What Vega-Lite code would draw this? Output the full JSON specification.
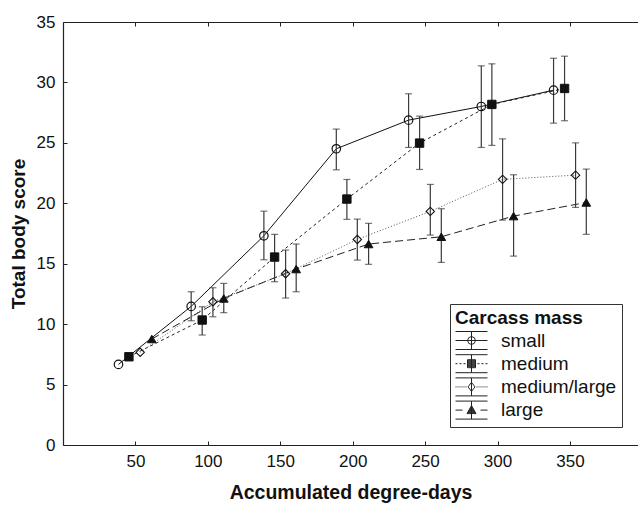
{
  "$schema": "https://vega.github.io/schema/vega-lite/v6.json",
  "width": 575,
  "height": 423,
  "autosize": "none",
  "padding": {"left": 63, "top": 22, "right": 0, "bottom": 60},
  "config": {
    "view": {"stroke": null},
    "font": "Liberation Sans",
    "axis": {"grid": false, "domainColor": "#222", "domainWidth": 1.2, "tickColor": "#222", "tickWidth": 1, "labelColor": "#111", "titleColor": "#111"}
  },
  "data": {
    "values": [
      {"group": "small", "x": 38.3, "y": 6.67, "lo": null, "hi": null},
      {"group": "small", "x": 88.5, "y": 11.47, "lo": 10.28, "hi": 12.68},
      {"group": "small", "x": 138.7, "y": 17.31, "lo": 15.33, "hi": 19.35},
      {"group": "small", "x": 188.7, "y": 24.51, "lo": 22.77, "hi": 26.14},
      {"group": "small", "x": 238.6, "y": 26.88, "lo": 24.62, "hi": 29.06},
      {"group": "small", "x": 288.8, "y": 28.01, "lo": 24.62, "hi": 31.37},
      {"group": "small", "x": 338.7, "y": 29.36, "lo": 26.63, "hi": 32.0},
      {"group": "medium", "x": 45.5, "y": 7.3, "lo": null, "hi": null},
      {"group": "medium", "x": 96.1, "y": 10.34, "lo": 9.1, "hi": 11.44},
      {"group": "medium", "x": 146.1, "y": 15.55, "lo": 13.51, "hi": 17.43},
      {"group": "medium", "x": 196.0, "y": 20.35, "lo": 18.67, "hi": 21.97},
      {"group": "medium", "x": 246.2, "y": 24.98, "lo": 22.8, "hi": 27.21},
      {"group": "medium", "x": 296.1, "y": 28.18, "lo": 24.79, "hi": 31.54},
      {"group": "medium", "x": 346.3, "y": 29.5, "lo": 26.83, "hi": 32.17},
      {"group": "medium/large", "x": 53.3, "y": 7.67, "lo": null, "hi": null},
      {"group": "medium/large", "x": 103.5, "y": 11.85, "lo": 10.61, "hi": 13.01},
      {"group": "medium/large", "x": 153.7, "y": 14.17, "lo": 12.16, "hi": 16.13},
      {"group": "medium/large", "x": 203.2, "y": 17.01, "lo": 15.3, "hi": 18.69},
      {"group": "medium/large", "x": 253.6, "y": 19.33, "lo": 17.37, "hi": 21.56},
      {"group": "medium/large", "x": 303.5, "y": 21.98, "lo": 18.61, "hi": 25.33},
      {"group": "medium/large", "x": 353.9, "y": 22.33, "lo": 19.66, "hi": 25.0},
      {"group": "large", "x": 61.3, "y": 8.77, "lo": null, "hi": null},
      {"group": "large", "x": 111.0, "y": 12.13, "lo": 10.95, "hi": 13.37},
      {"group": "large", "x": 161.0, "y": 14.56, "lo": 12.68, "hi": 16.63},
      {"group": "large", "x": 211.0, "y": 16.63, "lo": 14.95, "hi": 18.34},
      {"group": "large", "x": 261.2, "y": 17.23, "lo": 15.11, "hi": 19.55},
      {"group": "large", "x": 311.1, "y": 18.94, "lo": 15.63, "hi": 22.36},
      {"group": "large", "x": 361.3, "y": 20.07, "lo": 17.43, "hi": 22.83}
    ]
  },
  "layer": [
    {
      "description": "small: solid line (also carries the bottom and left axes)",
      "transform": [{"filter": "datum.group === 'small'"}],
      "mark": {"type": "line", "stroke": "#111", "strokeWidth": 1},
      "encoding": {
        "x": {
          "field": "x", "type": "quantitative",
          "scale": {"domain": [0, 397], "nice": false, "zero": false},
          "axis": {
            "orient": "bottom", "values": [50, 100, 150, 200, 250, 300, 350],
            "tickSize": -4, "labelPadding": 12, "labelFontSize": 17,
            "title": "Accumulated degree-days", "titleFontSize": 19.5, "titleFontWeight": "bold", "titlePadding": 14
          }
        },
        "y": {
          "field": "y", "type": "quantitative",
          "scale": {"domain": [0, 35], "nice": false},
          "axis": {
            "values": [0, 5, 10, 15, 20, 25, 30, 35],
            "tickSize": -4, "labelPadding": 12, "labelFontSize": 17,
            "title": "Total body score", "titleFontSize": 19, "titleFontWeight": "bold", "titlePadding": 8
          }
        }
      }
    },
    {
      "description": "medium: short-dash line",
      "transform": [{"filter": "datum.group === 'medium'"}],
      "mark": {"type": "line", "stroke": "#222", "strokeWidth": 1, "strokeDash": [3, 3]},
      "encoding": {
        "x": {"field": "x", "type": "quantitative", "axis": null},
        "y": {"field": "y", "type": "quantitative"}
      }
    },
    {
      "description": "medium/large: dotted line",
      "transform": [{"filter": "datum.group === 'medium/large'"}],
      "mark": {"type": "line", "stroke": "#555", "strokeWidth": 1, "strokeDash": [1, 2]},
      "encoding": {
        "x": {"field": "x", "type": "quantitative", "axis": null},
        "y": {"field": "y", "type": "quantitative"}
      }
    },
    {
      "description": "large: long-dash line",
      "transform": [{"filter": "datum.group === 'large'"}],
      "mark": {"type": "line", "stroke": "#222", "strokeWidth": 1, "strokeDash": [8, 4]},
      "encoding": {
        "x": {"field": "x", "type": "quantitative", "axis": null},
        "y": {"field": "y", "type": "quantitative"}
      }
    },
    {
      "description": "top frame line with inward ticks",
      "mark": {"type": "rule", "opacity": 0},
      "encoding": {
        "x": {
          "field": "x", "type": "quantitative",
          "axis": {"orient": "top", "values": [50, 100, 150, 200, 250, 300, 350], "tickSize": -4, "labels": false, "title": null}
        }
      }
    },
    {
      "description": "error bar stems",
      "mark": {"type": "rule", "stroke": "#3a3a3a", "strokeWidth": 1.2},
      "encoding": {
        "x": {"field": "x", "type": "quantitative", "axis": null},
        "y": {"field": "lo", "type": "quantitative"},
        "y2": {"field": "hi"}
      }
    },
    {
      "description": "lower error bar caps",
      "mark": {"type": "tick", "orient": "horizontal", "size": 7, "thickness": 1.2, "color": "#3a3a3a"},
      "encoding": {
        "x": {"field": "x", "type": "quantitative", "axis": null},
        "y": {"field": "lo", "type": "quantitative"}
      }
    },
    {
      "description": "upper error bar caps",
      "mark": {"type": "tick", "orient": "horizontal", "size": 7, "thickness": 1.2, "color": "#3a3a3a"},
      "encoding": {
        "x": {"field": "x", "type": "quantitative", "axis": null},
        "y": {"field": "hi", "type": "quantitative"}
      }
    },
    {
      "description": "small: open circles",
      "transform": [{"filter": "datum.group === 'small'"}],
      "mark": {"type": "point", "shape": "circle", "size": 72, "stroke": "#111", "strokeWidth": 1.2, "fill": "transparent", "opacity": 1},
      "encoding": {
        "x": {"field": "x", "type": "quantitative", "axis": null},
        "y": {"field": "y", "type": "quantitative"}
      }
    },
    {
      "description": "medium: filled squares",
      "transform": [{"filter": "datum.group === 'medium'"}],
      "mark": {"type": "point", "shape": "square", "size": 70, "stroke": "#111", "strokeWidth": 1, "fill": "#111", "opacity": 1},
      "encoding": {
        "x": {"field": "x", "type": "quantitative", "axis": null},
        "y": {"field": "y", "type": "quantitative"}
      }
    },
    {
      "description": "medium/large: open diamonds",
      "transform": [{"filter": "datum.group === 'medium/large'"}],
      "mark": {"type": "point", "shape": "diamond", "size": 70, "stroke": "#111", "strokeWidth": 1.1, "fill": "transparent", "opacity": 1},
      "encoding": {
        "x": {"field": "x", "type": "quantitative", "axis": null},
        "y": {"field": "y", "type": "quantitative"}
      }
    },
    {
      "description": "large: filled triangles",
      "transform": [{"filter": "datum.group === 'large'"}],
      "mark": {"type": "point", "shape": "triangle-up", "size": 75, "stroke": "#111", "strokeWidth": 1, "fill": "#111", "opacity": 1},
      "encoding": {
        "x": {"field": "x", "type": "quantitative", "axis": null},
        "y": {"field": "y", "type": "quantitative"}
      }
    },
    {
      "description": "key only: error-bar style glyph for each class; solid markers are drawn as packed strokes",
      "transform": [{"filter": "false"}],
      "mark": {"type": "point", "filled": false, "color": "#222", "stroke": "#222", "strokeWidth": 1, "opacity": 1},
      "encoding": {
        "shape": {
          "field": "group", "type": "nominal",
          "scale": {
            "domain": ["small", "medium", "medium/large", "large"],
            "range": [
              "M -1.6 -0.9 H 1.6 M -1.6 0.9 H 1.6 M 0 -0.9 V 0.9 M -1.6 0 H 1.6 M 0.4 0 L 0.28 0.28 L 0 0.4 L -0.28 0.28 L -0.4 0 L -0.28 -0.28 L 0 -0.4 L 0.28 -0.28 Z",
              "M -1.6 -0.9 H 1.6 M -1.6 0.9 H 1.6 M 0 -0.9 V 0.9 M -1.6 0 H -1.4 M -1.2 0 H -1.0 M -0.8 0 H -0.6 M 0.6 0 H 0.8 M 1.0 0 H 1.2 M 1.4 0 H 1.6 M -0.4 -0.4 H 0.4 V 0.4 H -0.4 Z M -0.4 -0.3 H 0.4 M -0.4 -0.2 H 0.4 M -0.4 -0.1 H 0.4 M -0.4 0 H 0.4 M -0.4 0.1 H 0.4 M -0.4 0.2 H 0.4 M -0.4 0.3 H 0.4",
              "M -1.6 -0.9 H 1.6 M -1.6 0.9 H 1.6 M 0 -0.9 V 0.9 M -1.6 0 H -1.5 M -1.4 0 H -1.3 M -1.2 0 H -1.1 M -1.0 0 H -0.9 M -0.8 0 H -0.7 M -0.6 0 H -0.5 M 0.5 0 H 0.6 M 0.7 0 H 0.8 M 0.9 0 H 1.0 M 1.1 0 H 1.2 M 1.3 0 H 1.4 M 1.5 0 H 1.6 M 0 -0.45 L 0.35 0 L 0 0.45 L -0.35 0 Z",
              "M -1.6 -0.9 H 1.6 M -1.6 0.9 H 1.6 M 0 -0.9 V 0.9 M -1.6 0 H -0.9 M 0.9 0 H 1.6 M 0 -0.45 L 0.45 0.35 L -0.45 0.35 Z M -0.06 -0.35 H 0.06 M -0.11 -0.25 H 0.11 M -0.17 -0.15 H 0.17 M -0.23 -0.05 H 0.23 M -0.28 0.05 H 0.28 M -0.34 0.15 H 0.34 M -0.39 0.25 H 0.39"
            ]
          },
          "legend": {
            "title": "Carcass mass", "orient": "none", "legendX": 387, "legendY": 282,
            "titleFontSize": 19, "titleFontWeight": "bold", "titleColor": "#111", "titlePadding": 2,
            "labelFontSize": 19, "labelColor": "#111", "labelOffset": 19,
            "symbolSize": 400, "symbolOffset": 6, "symbolFillColor": "transparent",
            "symbolStrokeColor": "#222", "symbolStrokeWidth": 1, "symbolOpacity": 1,
            "rowPadding": 0.2, "padding": 5, "strokeColor": "#333", "fillColor": "white"
          }
        }
      }
    }
  ],
  "resolve": {
    "axis": {"x": "independent"}
  }
}
